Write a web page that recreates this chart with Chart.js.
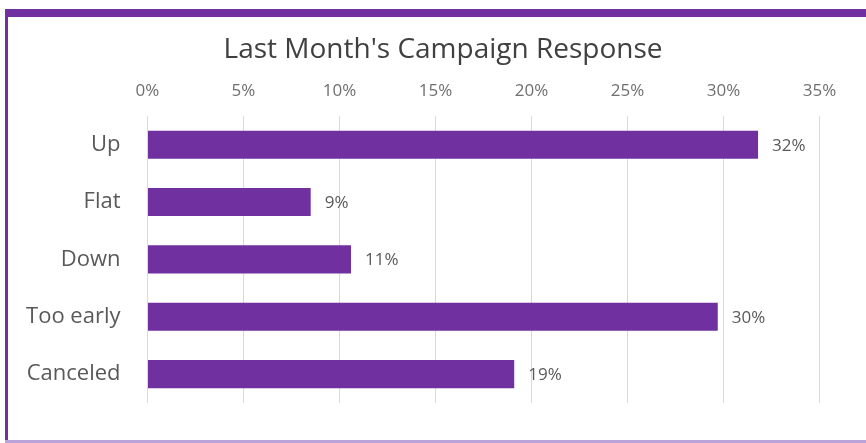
<!DOCTYPE html>
<html>
<head>
<meta charset="utf-8">
<script src="https://cdn.jsdelivr.net/npm/chart.js@4.4.1/dist/chart.umd.min.js"></script>
<style>
  html, body { margin: 0; padding: 0; background: #ffffff; }
  #wrap { position: absolute; left: 0; top: 0; width: 866px; height: 443px; }
  .bd { position: absolute; pointer-events: none; }
</style>
</head>
<body>
<div id="wrap"><canvas id="c"></canvas></div>
<div class="bd" style="left:5px;top:9px;width:861px;height:8px;background:#7030a0;"></div>
<div class="bd" style="left:5px;top:9px;width:3px;height:434px;background:#7030a0;"></div>
<div class="bd" style="left:5px;top:440px;width:861px;height:3px;background:#b9a3d9;"></div>
<script>
const titleText = "Last Month's Campaign Response";
const categories = ["Up", "Flat", "Down", "Too early", "Canceled"];
const responsePct = [31.8, 8.5, 10.6, 29.7, 19.1];
const tickValues = [0, 5, 10, 15, 20, 25, 30, 35];

const barColor = '#7030a0';
const labelColor = '#595959';

const dataLabels = {
  id: 'dataLabels',
  afterDatasetsDraw(chart) {
    const ctx = chart.ctx;
    const meta = chart.getDatasetMeta(0);
    ctx.save();
    ctx.font = '17px "Open Sans"';
    ctx.fillStyle = labelColor;
    ctx.textAlign = 'left';
    ctx.textBaseline = 'middle';
    meta.data.forEach((bar, i) => {
      ctx.fillText(Math.round(responsePct[i]) + '%', bar.x + 14, bar.y + 1);
    });
    ctx.restore();
  }
};

new Chart(document.getElementById('c'), {
  type: 'bar',
  data: {
    labels: categories,
    datasets: [{
      data: responsePct,
      backgroundColor: barColor,
      borderWidth: 0,
      barPercentage: 0.49,
      categoryPercentage: 1.0
    }]
  },
  plugins: [dataLabels],
  options: {
    indexAxis: 'y',
    responsive: true,
    maintainAspectRatio: false,
    animation: false,
    layout: { padding: { top: 33, left: 66.5, right: 46.5, bottom: 32 } },
    plugins: {
      legend: { display: false },
      tooltip: { enabled: false },
      title: {
        display: true,
        text: titleText,
        color: '#404040',
        font: { family: '"Open Sans"', size: 28, weight: 'normal' },
        padding: { top: 0, bottom: 0 }
      }
    },
    scales: {
      x: {
        position: 'top',
        min: 0,
        max: 35,
        afterFit(scale) { scale.height = 49.4; },
        afterBuildTicks(scale) { scale.ticks = tickValues.map(v => ({ value: v })); },
        ticks: {
          color: '#6f6f6f',
          font: { family: '"Open Sans"', size: 17 },
          padding: 15,
          callback: (v) => v + '%'
        },
        grid: { color: '#d9d9d9', lineWidth: 1, drawTicks: false },
        border: { display: false }
      },
      y: {
        afterFit(scale) {
          scale.width = 81;
          // let the category labels extend left of the narrowed axis box
          scale._computeLabelArea = () => undefined;
        },
        ticks: {
          color: labelColor,
          font: { family: '"Open Sans"', size: 22 },
          padding: 27
        },
        grid: { display: false, drawTicks: false },
        border: { display: true, color: '#d9d9d9', width: 1 }
      }
    }
  }
});
</script>
</body>
</html>
